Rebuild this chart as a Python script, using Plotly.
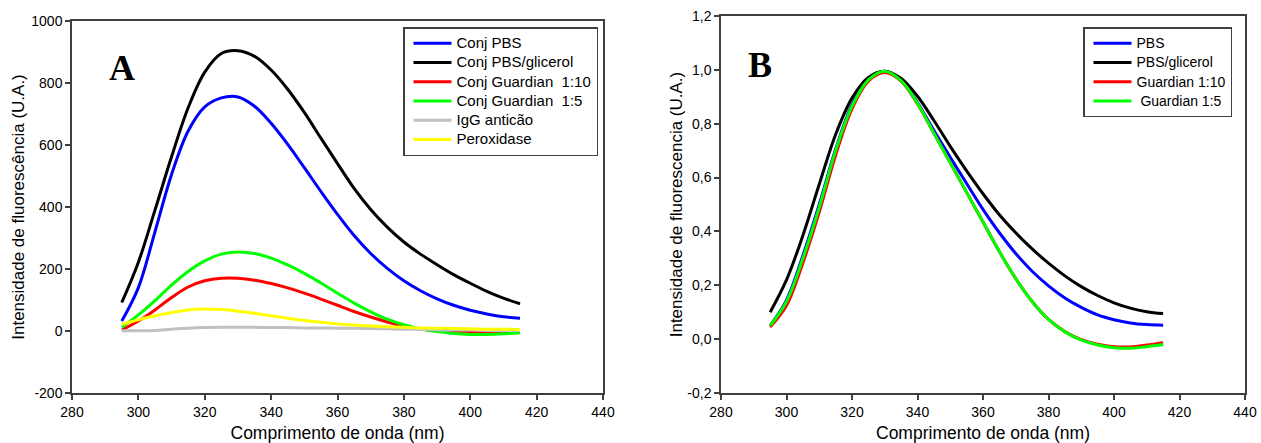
import plotly.graph_objects as go

# ---------------- data ----------------
wavelength = [295, 300, 305, 310, 315, 320, 325, 330, 335, 340, 345, 350, 355,
              360, 365, 370, 375, 380, 385, 390, 395, 400, 405, 410, 415]

# Panel A (absolute intensity)
a_conj_pbs = [32, 140, 320, 505, 645, 723, 752, 755, 725, 670, 602, 527, 450,
              376, 308, 250, 202, 162, 130, 104, 83, 67, 55, 46, 41]
a_conj_pbs_glic = [92, 222, 390, 562, 720, 835, 895, 904, 886, 842, 780, 705, 622,
                   540, 460, 392, 335, 287, 248, 214, 182, 154, 128, 106, 88]
a_guard_110 = [3, 32, 68, 108, 142, 162, 170, 170, 164, 153, 139, 122, 103,
               83, 63, 45, 29, 16, 6, 0, -3, -4, -4, -3, -2]
a_guard_15 = [12, 52, 98, 148, 192, 226, 248, 255, 250, 235, 213, 186, 155,
              122, 90, 62, 38, 20, 7, -2, -8, -11, -11, -9, -6]
a_igg = [1, 1, 2, 6, 9, 11, 12, 12, 12, 11, 11, 10, 10,
         9, 9, 8, 7, 6, 5, 4, 3, 3, 2, 2, 2]
a_perox = [22, 36, 49, 60, 68, 71, 69, 64, 57, 49, 41, 34, 28,
           23, 19, 16, 14, 12, 10, 9, 8, 7, 6, 6, 5]

# Panel B (normalised intensity)
b_pbs = [0.05, 0.145, 0.31, 0.50, 0.705, 0.87, 0.965, 0.995, 0.96, 0.878, 0.775, 0.675, 0.578,
         0.482, 0.395, 0.318, 0.252, 0.198, 0.153, 0.118, 0.09, 0.072, 0.06, 0.054, 0.052]
b_pbs_glic = [0.10, 0.22, 0.385, 0.575, 0.76, 0.895, 0.972, 0.995, 0.968, 0.902, 0.812, 0.716, 0.625,
              0.54, 0.462, 0.395, 0.335, 0.282, 0.235, 0.195, 0.162, 0.135, 0.115, 0.102, 0.095]
b_guard_110 = [0.045, 0.125, 0.283, 0.472, 0.683, 0.855, 0.958, 0.99, 0.958, 0.873, 0.765, 0.655, 0.545,
               0.435, 0.325, 0.225, 0.14, 0.073, 0.028, -0.002, -0.019, -0.028, -0.029, -0.022, -0.013]
b_guard_15 = [0.05, 0.14, 0.30, 0.49, 0.70, 0.865, 0.963, 0.995, 0.96, 0.875, 0.765, 0.655, 0.545,
              0.435, 0.325, 0.225, 0.14, 0.073, 0.027, -0.004, -0.022, -0.032, -0.034, -0.028, -0.02]

x_ticks = [280, 300, 320, 340, 360, 380, 400, 420, 440]
a_y_ticks = [-200, 0, 200, 400, 600, 800, 1000]
a_y_labels = ["-200", "0", "200", "400", "600", "800", "1000"]
b_y_ticks = [-0.2, 0.0, 0.2, 0.4, 0.6, 0.8, 1.0, 1.2]
b_y_labels = ["-0,2", "0,0", "0,2", "0,4", "0,6", "0,8", "1,0", "1,2"]

a_names = ["Conj PBS", "Conj PBS/glicerol", "Conj Guardian\u00a0\u00a01:10",
           "Conj Guardian\u00a0\u00a01:5", "IgG anticão", "Peroxidase"]
b_names = ["PBS", "PBS/glicerol", "Guardian 1:10", "\u00a0Guardian 1:5"]

a_series = list(zip(a_names, [a_conj_pbs, a_conj_pbs_glic, a_guard_110, a_guard_15, a_igg, a_perox],
                    ["#0000FF", "#000000", "#FF0000", "#00FF00", "#C0C0C0", "#FFFF00"]))
b_series = list(zip(b_names, [b_pbs, b_pbs_glic, b_guard_110, b_guard_15],
                    ["#0000FF", "#000000", "#FF0000", "#00FF00"]))

FONT = "Liberation Sans, Arial, sans-serif"
AXC = "#404040"
SMOOTH = 1.0

fig = go.Figure()
for name, vals, col in a_series:
    fig.add_trace(go.Scatter(x=wavelength, y=vals, mode="lines",
                             name='<span style="font-size:15px">' + name + '</span>',
                             line=dict(color=col, width=3, shape="spline", smoothing=SMOOTH),
                             xaxis="x", yaxis="y", legend="legend"))
for name, vals, col in b_series:
    fig.add_trace(go.Scatter(x=wavelength, y=vals, mode="lines",
                             name='<span style="font-size:14px">' + name + '</span>',
                             line=dict(color=col, width=3, shape="spline", smoothing=SMOOTH),
                             xaxis="x2", yaxis="y2", legend="legend2"))

W, H = 1261, 443


def px_x(p):
    return p / W


def px_y(p):
    return (H - p) / H


common_axis = dict(showline=True, mirror=True, linecolor=AXC, linewidth=1.5,
                   ticks="outside", ticklen=5, tickwidth=1.5, tickcolor=AXC,
                   showgrid=False, zeroline=False, automargin=False,
                   tickfont=dict(family=FONT, size=14, color="#000000"))

legend_common = dict(xanchor="left", yanchor="top",
                     bgcolor="white", bordercolor=AXC, borderwidth=1.5,
                     font=dict(family=FONT, size=12.5, color="#000000"),
                     tracegroupgap=0, itemwidth=38, indentation=4)

fig.update_layout(
    width=W, height=H,
    margin=dict(l=0, r=0, t=0, b=0),
    paper_bgcolor="white", plot_bgcolor="white",
    separators=",.",
    font=dict(family=FONT, color="#000000"),
    xaxis=dict(domain=[px_x(72), px_x(603)], range=[280, 440], tickvals=x_ticks,
               anchor="y",
               title=dict(text="Comprimento de onda (nm)", font=dict(size=17.5), standoff=9),
               **common_axis),
    yaxis=dict(domain=[px_y(393), px_y(21)], range=[-200, 1000], tickvals=a_y_ticks,
               ticktext=a_y_labels, anchor="x",
               title=dict(text="Intensidade de fluorescência (U.A.)", font=dict(size=17), standoff=2),
               **common_axis),
    xaxis2=dict(domain=[px_x(721), px_x(1245)], range=[280, 440], tickvals=x_ticks,
                anchor="y2",
                title=dict(text="Comprimento de onda (nm)", font=dict(size=17.5), standoff=13),
                **common_axis),
    yaxis2=dict(domain=[px_y(393), px_y(16)], range=[-0.2, 1.2], tickvals=b_y_ticks,
                ticktext=b_y_labels, anchor="x2",
                title=dict(text="Intensidade de fluorescencia (U.A.)", font=dict(size=17), standoff=0),
                **common_axis),
    legend=dict(x=px_x(403), y=px_y(27), **legend_common),
    legend2=dict(x=px_x(1083), y=px_y(27), **legend_common),
    showlegend=True,
    annotations=[
        dict(text="<b>A</b>", x=px_x(122), y=px_y(68), xref="paper", yref="paper",
             xanchor="center", yanchor="middle", showarrow=False,
             font=dict(family="Liberation Serif, Times New Roman, serif", size=36, color="#000000")),
        dict(text="<b>B</b>", x=px_x(760), y=px_y(65), xref="paper", yref="paper",
             xanchor="center", yanchor="middle", showarrow=False,
             font=dict(family="Liberation Serif, Times New Roman, serif", size=36, color="#000000")),
    ],
)

fig.write_html("out.html")
